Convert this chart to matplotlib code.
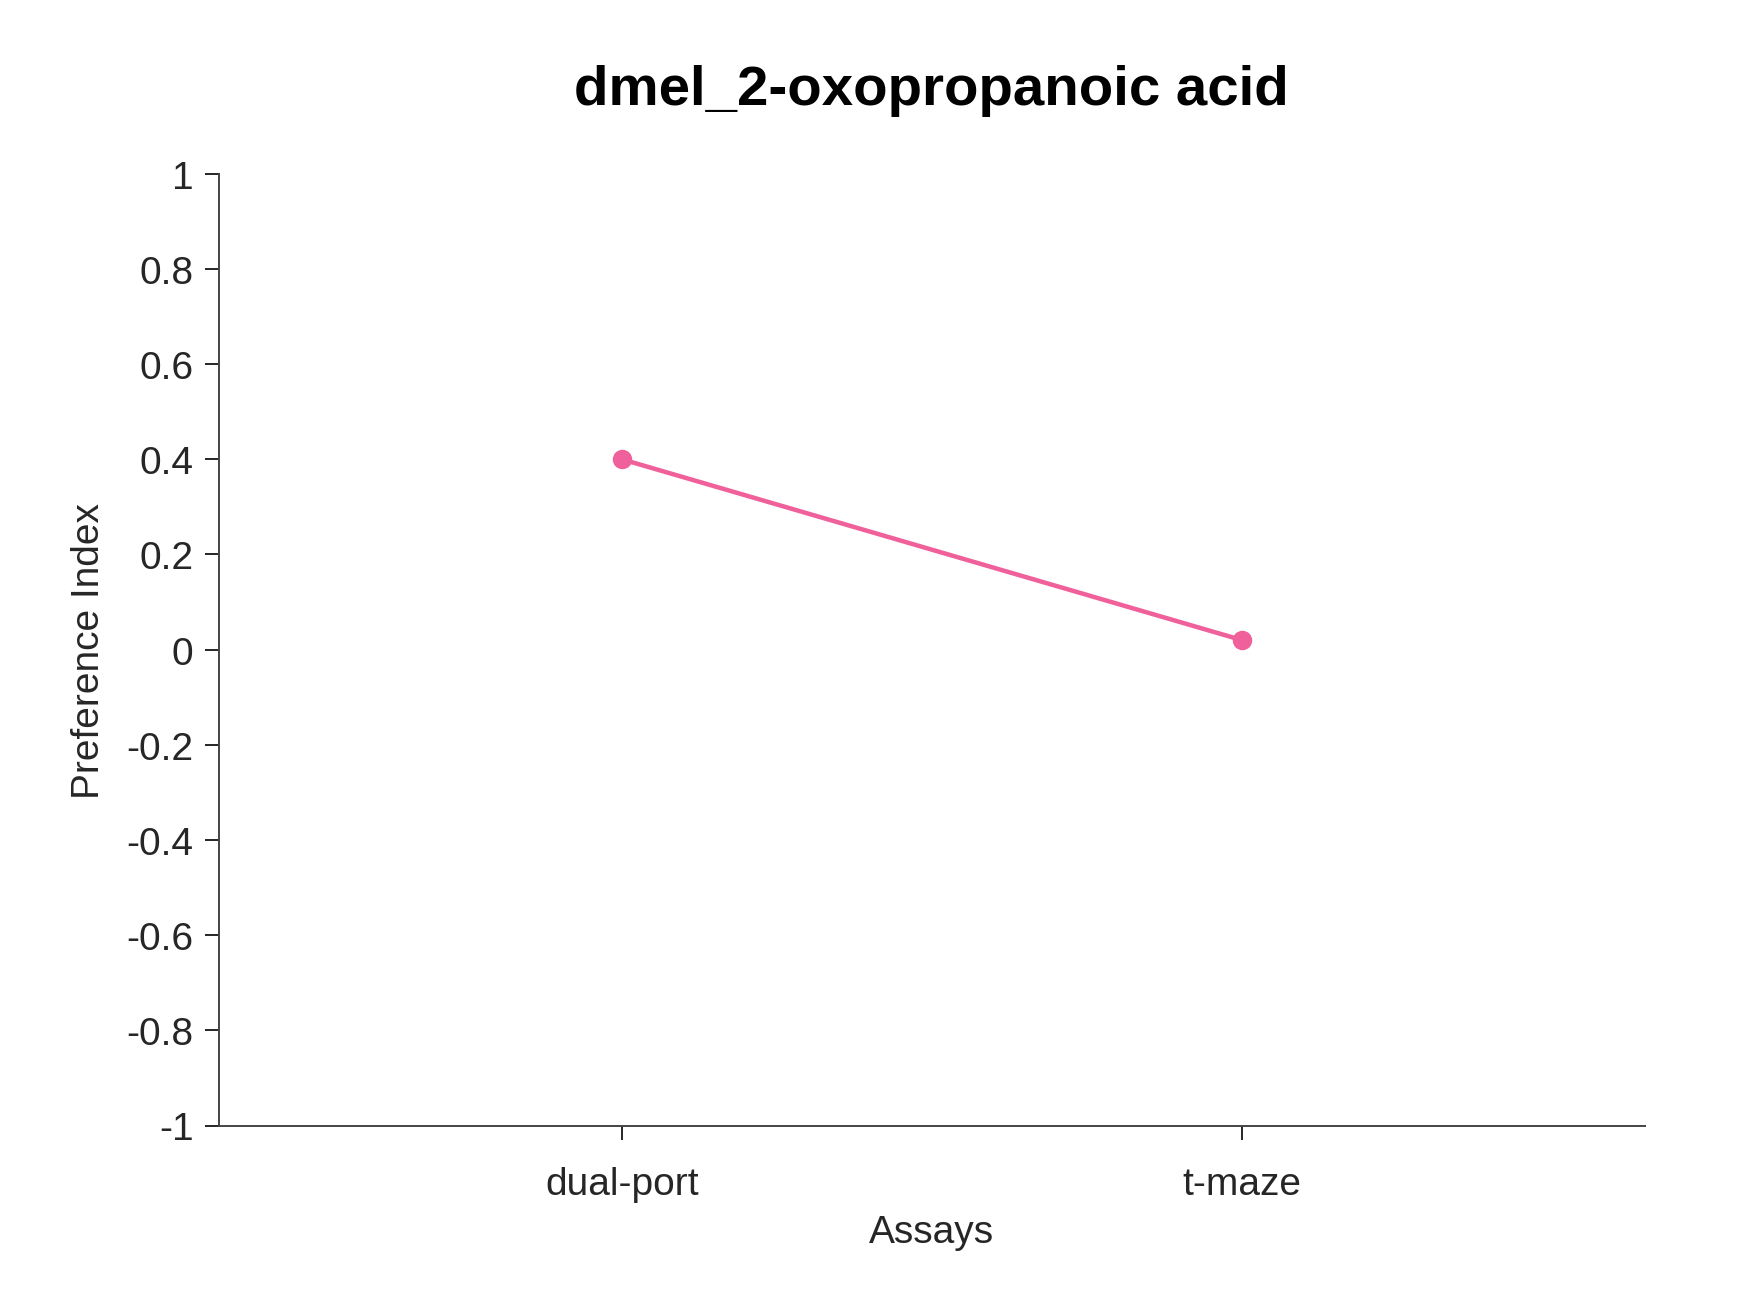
import matplotlib
matplotlib.use("Agg")
import matplotlib.pyplot as plt

assays = ["dual-port", "t-maze"]
values = [0.40, 0.02]
yticks = [-1, -0.8, -0.6, -0.4, -0.2, 0, 0.2, 0.4, 0.6, 0.8, 1]
ylabels = ["-1", "-0.8", "-0.6", "-0.4", "-0.2", "0", "0.2", "0.4", "0.6", "0.8", "1"]

plt.rcParams['font.family'] = ['Liberation Sans', 'DejaVu Sans']
fig = plt.figure(figsize=(12.5, 9.378), dpi=140)
ax = fig.add_axes([0.125, 0.142, 0.815, 0.725])
x = list(range(len(assays)))
ax.plot(x, values, color="#F0609A", lw=2.3, marker="o", ms=9)
ax.set_xlim(-0.65, 1.65)
ax.set_ylim(-1, 1)
ax.set_xticks(x)
ax.set_xticklabels(assays)
ax.set_yticks(yticks)
ax.set_yticklabels(ylabels)
for s in ["top", "right"]:
    ax.spines[s].set_visible(False)
for s in ["left", "bottom"]:
    ax.spines[s].set_color("#444444")
    ax.spines[s].set_linewidth(1)
ax.tick_params(labelsize=20, colors="#262626", length=7, width=1, direction="out", pad=6)
ax.tick_params(axis="x", pad=14)
ax.set_xlabel("Assays", fontsize=20, color="#262626", labelpad=6)
ax.set_ylabel("Preference Index", fontsize=20, color="#262626", labelpad=10)
ax.set_title("dmel_2-oxopropanoic acid", fontsize=29, fontweight="bold", pad=36)
fig.savefig("out.png")
